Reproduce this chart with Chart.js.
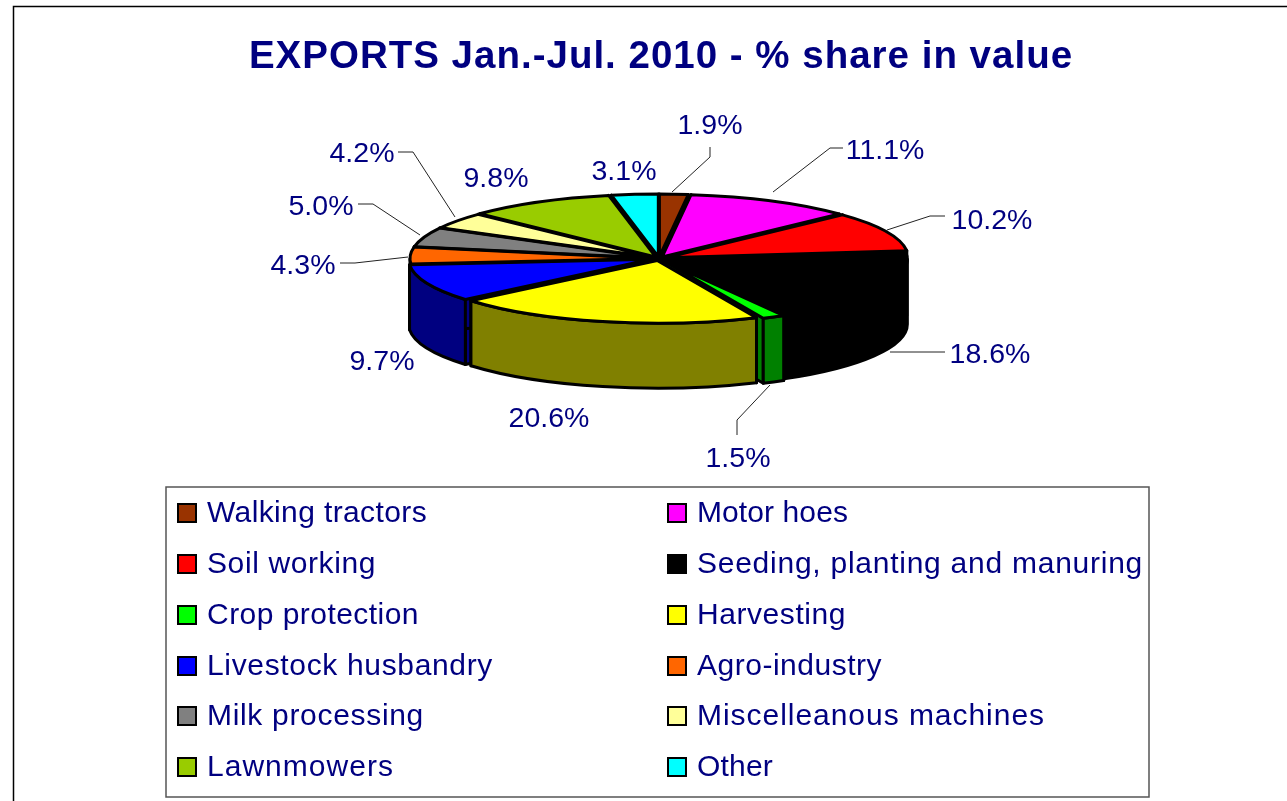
<!DOCTYPE html>
<html><head><meta charset="utf-8">
<style>html,body{margin:0;padding:0;background:#fff;overflow:hidden}canvas{display:block}</style>
<script src="https://cdn.jsdelivr.net/npm/chart.js@4/dist/chart.umd.js"></script>
</head><body>
<div style="width:1287px;height:801px"><canvas id="c" width="1287" height="801"></canvas></div>
<script>
const TITLE = 'EXPORTS Jan.-Jul. 2010 - % share in value';
const categories = ['Walking tractors','Motor hoes','Soil working','Seeding, planting and manuring','Crop protection','Harvesting','Livestock husbandry','Agro-industry','Milk processing','Miscelleanous machines','Lawnmowers','Other'];
const shares = [1.9,11.1,10.2,18.6,1.5,20.6,9.7,4.3,5.0,4.2,9.8,3.1];
const topColors = ['#993300','#ff00ff','#ff0000','#000000','#00ff00','#ffff00','#0000ff','#ff6600','#808080','#ffff99','#99cc00','#00ffff'];
const sideColors = ['#4d1a00','#800080','#800000','#000000','#008000','#808000','#000080','#803300','#404040','#80804d','#4d6600','#008080'];
const explode = [7,7,7,6,11,8,8,6,6,6,7,7];
const labelCenters = [[710,126],[885,151],[992,221],[990,355],[738,459],[549,419],[382,362],[303,266],[321,207],[362,154],[496,179],[624,172]];
const leaders = [
  [[672,192],[710,157],[710,147]],
  [[773,192],[830,148],[843,148]],
  [[887,230],[930,216],[945,216]],
  [[890,352],[930,352],[945,352]],
  [[770,385],[737,420],[737,435]],
  [[455,217],[413,152],[398,152]],
  [[420,235],[373,204],[358,204]],
  [[408,257],[355,263],[340,263]]
];
const legendTextRight = [427,848,376,1143,419,846,493,882,424,1045,394,773];
const NAVY = '#000080', FONT = '"Liberation Sans", Arial, sans-serif';
const PIE = {cx:659, cy:258.5, k:0.258, depth:65, radius:243, stroke:3};
const LEGEND = {x:166, y:487, w:983, h:310, rows:[514,565,616,667,717,768], swatchRows:[513,564,615,666,716,767], swatchX:[177,667], textX:[207,697], swatch:20};

function geom(el,i){
  const mid=(el.startAngle+el.endAngle)/2, off=explode[i];
  return {a0:el.startAngle,a1:el.endAngle,mid,
    x:PIE.cx+Math.cos(mid)*off, y:PIE.cy+PIE.k*Math.sin(mid)*off,
    rx:el.outerRadius, ry:el.outerRadius*PIE.k};
}
const pie3d = {
  id:'pie3d',
  afterLayout(chart){
    const t=chart.titleBlock; if(t){ t.left=36; t.right=1286; t.top=34; t.bottom=t.top+t.height; }
  },
  beforeDraw(chart){
    const c=chart.ctx; c.save(); c.strokeStyle='#000'; c.lineWidth=1.5;
    c.beginPath(); c.moveTo(13.5,801); c.lineTo(13.5,6.5); c.lineTo(1287,6.5); c.stroke(); c.restore();
    c.letterSpacing='1px';
  },
  beforeDatasetsDraw(chart){
    const c=chart.ctx, meta=chart.getDatasetMeta(0);
    c.letterSpacing='0px';
    const slices=meta.data.map((el,i)=>({g:geom(el,i),i})).sort((a,b)=>Math.sin(a.g.mid)-Math.sin(b.g.mid));
    c.save(); c.lineJoin='round'; c.strokeStyle='#000'; c.lineWidth=PIE.stroke;
    const d=PIE.depth;
    for(const {g,i} of slices){
      c.fillStyle=sideColors[i];
      for(const a of [g.a0,g.a1]){
        const px=g.x+g.rx*Math.cos(a), py=g.y+g.ry*Math.sin(a);
        c.beginPath(); c.moveTo(g.x,g.y); c.lineTo(px,py); c.lineTo(px,py+d); c.lineTo(g.x,g.y+d); c.closePath(); c.fill(); c.stroke();
      }
      const s=Math.max(g.a0,0), e=Math.min(g.a1,Math.PI);
      if(e>s){
        c.beginPath(); c.ellipse(g.x,g.y,g.rx,g.ry,0,s,e);
        c.ellipse(g.x,g.y+d,g.rx,g.ry,0,e,s,true); c.closePath(); c.fill(); c.stroke();
      }
    }
    c.restore();
    // top faces: the library's own arc elements, through a squashing transform
    meta.data.forEach((el,i)=>{
      const g=geom(el,i);
      c.save();
      c.translate(g.x,g.y); c.scale(1,PIE.k); c.translate(-el.x,-el.y);
      el.draw(c);
      c.restore();
    });
    c.save(); c.lineJoin='round'; c.strokeStyle='#000'; c.lineWidth=PIE.stroke;
    meta.data.forEach((el,i)=>{
      const g=geom(el,i);
      c.beginPath(); c.moveTo(g.x,g.y); c.ellipse(g.x,g.y,g.rx,g.ry,0,g.a0,g.a1); c.closePath(); c.stroke();
    });
    c.restore();
    // leader lines
    c.save(); c.strokeStyle='#222'; c.lineWidth=1;
    leaders.forEach(l=>{ c.beginPath(); l.forEach((p,i)=>i?c.lineTo(p[0],p[1]):c.moveTo(p[0],p[1])); c.stroke(); });
    c.restore();
    // value labels
    c.save(); c.fillStyle=NAVY; c.font='28.5px '+FONT; c.textAlign='center'; c.textBaseline='middle';
    shares.forEach((v,i)=>c.fillText(v.toFixed(1)+'%',labelCenters[i][0],labelCenters[i][1]));
    c.restore();
    // legend
    c.save(); c.fillStyle='#fff'; c.strokeStyle='#555'; c.lineWidth=1.5;
    c.fillRect(LEGEND.x,LEGEND.y,LEGEND.w,LEGEND.h); c.strokeRect(LEGEND.x,LEGEND.y,LEGEND.w,LEGEND.h);
    c.font='30px '+FONT; c.textBaseline='middle'; c.textAlign='left';
    const legendItems=Chart.overrides.pie.plugins.legend.labels.generateLabels(chart);
    legendItems.forEach((it,i)=>{
      const col=i%2,row=Math.floor(i/2),y=LEGEND.swatchRows[row],x=LEGEND.swatchX[col],s=LEGEND.swatch;
      c.fillStyle=it.fillStyle; c.strokeStyle='#000'; c.lineWidth=2;
      c.fillRect(x,y-s/2,s,s); c.strokeRect(x+1,y-s/2+1,s-2,s-2);
      c.letterSpacing='0px';
      const natural=c.measureText(it.text).width, target=legendTextRight[i]-LEGEND.textX[col];
      c.letterSpacing=((target-natural)/it.text.length).toFixed(3)+'px';
      c.fillStyle=NAVY; c.fillText(it.text,LEGEND.textX[col],LEGEND.rows[row]);
    });
    c.letterSpacing='0px';
    c.restore();
    return false;
  }
};
new Chart(document.getElementById('c'),{
  type:'pie',
  data:{labels:categories,datasets:[{data:shares,backgroundColor:topColors,borderWidth:0,radius:PIE.radius}]},
  options:{
    responsive:false,animation:false,
    rotation:0,
    radius:PIE.radius,
    layout:{padding:{left:300,right:300,top:0,bottom:0}},
    plugins:{
      legend:{display:false},tooltip:{enabled:false},
      title:{display:true,text:TITLE,color:NAVY,font:{family:FONT,size:38.5,weight:'bold'},fullSize:true,padding:0}
    }
  },
  plugins:[pie3d]
});
</script>
</body></html>
